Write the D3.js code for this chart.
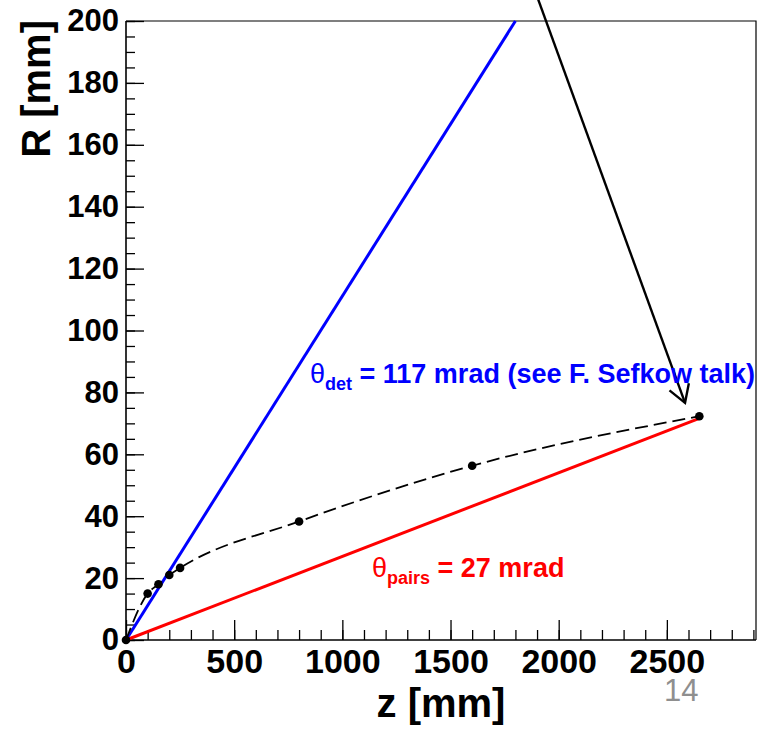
<!DOCTYPE html>
<html>
<head>
<meta charset="utf-8">
<script src="https://cdn.jsdelivr.net/npm/d3@7"></script>
<style>
  html, body { margin: 0; padding: 0; background: #fff; }
  svg { display: block; }
  text { font-family: "Liberation Sans", Arial, sans-serif; }
</style>
</head>
<body>
<script>
// Beam-pipe envelope: points along z [mm] with radius R [mm]
const envZ = [0, 100, 150, 200, 250, 800, 1600, 2650];
const envR = [0, 15, 18, 21, 23.3, 38.3, 56.3, 72.3];

// Detector acceptance line and pair cone line (z, R end points)
const detLineZ = [0, 1800];
const detLineR = [0, 200];
const pairsLineZ = [0, 2650];
const pairsLineR = [0, 71.6];

// Pointer arrow (z, R): from above the frame down to the envelope end
const arrowZ = [1905, 2584];
const arrowR = [207, 76.6];

// Axis ticks
const xMajorTicks = [0, 500, 1000, 1500, 2000, 2500];
const xMinorTicks = d3.range(0, 2901, 100);
const yMajorTicks = [0, 20, 40, 60, 80, 100, 120, 140, 160, 180, 200];
const yMinorTicks = d3.range(0, 201, 5);

const W = 765, H = 732;
const frame = { left: 126, right: 756, top: 21, bottom: 640 };

const x = d3.scaleLinear().domain([0, 2912]).range([frame.left, frame.right]);
const y = d3.scaleLinear().domain([0, 200]).range([frame.bottom, frame.top]);

const svg = d3.select("body").append("svg")
  .attr("width", W).attr("height", H);

// Frame (top and right edges)
svg.append("path")
  .attr("d", `M${frame.left},${frame.top}H${frame.right}V${frame.bottom}`)
  .attr("fill", "none").attr("stroke", "#000").attr("stroke-width", 1.2);

// X axis: minor then major ticks, pointing into the plot
const gx = svg.append("g").attr("transform", `translate(0,${frame.bottom})`);
gx.call(d3.axisBottom(x).tickValues(xMinorTicks).tickSize(-10).tickFormat(""))
  .call(g => g.select(".domain").remove());
const gxMaj = svg.append("g").attr("transform", `translate(0,${frame.bottom})`);
gxMaj.call(d3.axisBottom(x).tickValues(xMajorTicks).tickSize(-20).tickPadding(26).tickFormat(d3.format("d")))
  .call(g => g.select(".domain").attr("d", `M${frame.left},0H${frame.right}`));
gxMaj.selectAll("text").attr("font-size", 34).attr("font-weight", "bold")
  .attr("font-family", "Liberation Sans, Arial, sans-serif").attr("fill", "#000").attr("dy", "0.2em");

// Y axis
const gy = svg.append("g").attr("transform", `translate(${frame.left},0)`);
gy.call(d3.axisLeft(y).tickValues(yMinorTicks).tickSize(-9).tickFormat(""))
  .call(g => g.select(".domain").remove());
const gyMaj = svg.append("g").attr("transform", `translate(${frame.left},0)`);
gyMaj.call(d3.axisLeft(y).tickValues(yMajorTicks).tickSize(-18).tickPadding(7).tickFormat(d3.format("d")))
  .call(g => g.select(".domain").attr("d", `M0,${frame.bottom}V${frame.top}`));
gyMaj.selectAll("text").attr("font-size", 31).attr("font-weight", "bold")
  .attr("font-family", "Liberation Sans, Arial, sans-serif").attr("fill", "#000");

svg.selectAll(".tick line").attr("stroke", "#000").attr("stroke-width", 1.3);
svg.selectAll(".domain").attr("stroke", "#000").attr("stroke-width", 1.6);

// Axis titles
svg.append("text")
  .attr("x", (frame.left + frame.right) / 2).attr("y", 717)
  .attr("text-anchor", "middle").attr("font-size", 40).attr("font-weight", "bold")
  .text("z [mm]");
svg.append("text")
  .attr("transform", `translate(50,${frame.top - 1}) rotate(-90)`)
  .attr("text-anchor", "end").attr("font-size", 40).attr("font-weight", "bold")
  .text("R [mm]");

const pts = (zs, rs) => zs.map((z, i) => [z, rs[i]]);
const line = d3.line().x(d => x(d[0])).y(d => y(d[1]));

// Detector acceptance line
svg.append("path").datum(pts(detLineZ, detLineR))
  .attr("d", line).attr("fill", "none").attr("stroke", "#0000ff").attr("stroke-width", 3);

// Pair cone line
svg.append("path").datum(pts(pairsLineZ, pairsLineR))
  .attr("d", line).attr("fill", "none").attr("stroke", "#ff0000").attr("stroke-width", 3);

// Envelope: smooth dashed curve and markers
svg.append("path").datum(pts(envZ, envR))
  .attr("d", line.curve(d3.curveMonotoneX)).attr("fill", "none")
  .attr("stroke", "#000").attr("stroke-width", 1.8).attr("stroke-dasharray", "13,6");
line.curve(d3.curveLinear);

svg.append("g").selectAll("circle").data(pts(envZ, envR)).join("circle")
  .attr("cx", d => x(d[0])).attr("cy", d => y(d[1])).attr("r", 4.3).attr("fill", "#000");

// Pointer arrow with open head
const a0 = [x(arrowZ[0]), y(arrowR[0])], a1 = [x(arrowZ[1]), y(arrowR[1])];
svg.append("line")
  .attr("x1", a0[0]).attr("y1", a0[1]).attr("x2", a1[0]).attr("y2", a1[1])
  .attr("stroke", "#000").attr("stroke-width", 2.4);
const ang = Math.atan2(a0[1] - a1[1], a0[0] - a1[0]);
const headLen = 20, headAng = 31 * Math.PI / 180;
const h1 = [a1[0] + headLen * Math.cos(ang + headAng), a1[1] + headLen * Math.sin(ang + headAng)];
const h2 = [a1[0] + headLen * Math.cos(ang - headAng), a1[1] + headLen * Math.sin(ang - headAng)];
svg.append("path")
  .attr("d", `M${h1[0]},${h1[1]}L${a1[0]},${a1[1]}L${h2[0]},${h2[1]}`)
  .attr("fill", "none").attr("stroke", "#000").attr("stroke-width", 2.4);

// Annotations
function label(xp, yp, color, sub, rest) {
  const t = svg.append("text").attr("x", xp).attr("y", yp).attr("fill", color)
    .attr("font-size", 27);
  t.append("tspan").attr("font-weight", "normal").text("θ");
  t.append("tspan").attr("font-weight", "bold").attr("font-size", 18).attr("dy", 7).text(sub);
  t.append("tspan").attr("font-weight", "bold").attr("dy", -7).text(" " + rest);
}
label(310, 383, "#0000ff", "det", "= 117 mrad (see F. Sefkow talk)");
label(372, 577, "#ff0000", "pairs", "= 27 mrad");

// Page number
svg.append("text").attr("x", 664).attr("y", 701)
  .attr("font-size", 31).attr("fill", "#8f8f8f").text("14");
</script>
</body>
</html>
